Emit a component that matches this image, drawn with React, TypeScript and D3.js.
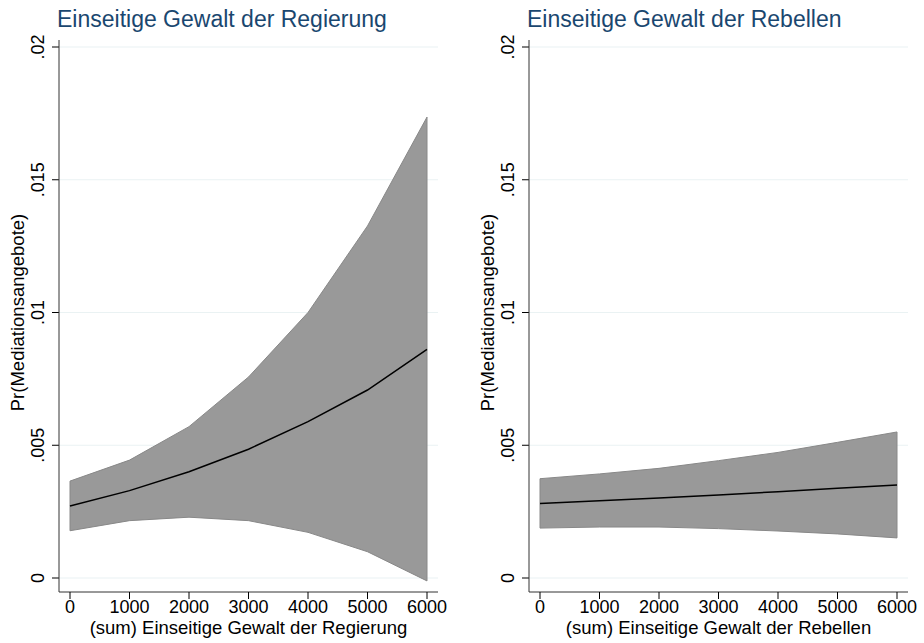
import React from 'react';
import * as d3 from 'd3';

// predicted probabilities with 95% CI
const xs = [0, 1000, 2000, 3000, 4000, 5000, 6000];

const govMean = [0.00271, 0.00329, 0.00400, 0.00485, 0.00589, 0.00708, 0.00861];
const govLow = [0.00178, 0.00216, 0.00229, 0.00216, 0.00172, 0.00099, -0.00011];
const govHigh = [0.00365, 0.00444, 0.00570, 0.00757, 0.01000, 0.01326, 0.01736];

const rebMean = [0.00281, 0.00291, 0.00301, 0.00313, 0.00325, 0.00338, 0.00350];
const rebLow = [0.00188, 0.00192, 0.00192, 0.00186, 0.00177, 0.00166, 0.00151];
const rebHigh = [0.00374, 0.00392, 0.00413, 0.00442, 0.00473, 0.00511, 0.00550];

const yTicks = [0, 0.005, 0.01, 0.015, 0.02];
const yTickLabels = ['0', '.005', '.01', '.015', '.02'];
const xTicks = [0, 1000, 2000, 3000, 4000, 5000, 6000];

const FONT = '"Liberation Sans", Arial, sans-serif';
const TITLE_COLOR = '#1a476f';

type PanelProps = {
  left: number;
  title: string;
  xTitle: string;
  mean: number[];
  low: number[];
  high: number[];
};

const Panel = ({ left, title, xTitle, mean, low, high }: PanelProps) => {
  const axisX = 59;
  const plotRight = 438;
  const axisY = 592;
  const x = d3.scaleLinear().domain([0, 6000]).range([70, 427]);
  const y = d3.scaleLinear().domain([0, 0.02]).range([578, 47]);

  const pts = xs.map((v, i) => ({ x: v, m: mean[i], lo: low[i], hi: high[i] }));
  const area = d3.area<any>().x(d => x(d.x)).y0(d => y(d.lo)).y1(d => y(d.hi));
  const line = d3.line<any>().x(d => x(d.x)).y(d => y(d.m));

  return (
    <g transform={`translate(${left},0)`}>
      <text x={57} y={27} fontSize={23} fill={TITLE_COLOR} fontFamily={FONT}>{title}</text>
      {yTicks.map((t, i) => (
        <g key={i}>
          <line x1={axisX} x2={plotRight} y1={y(t)} y2={y(t)} stroke="#eaf2f3" strokeWidth={1.2} />
          <line x1={axisX - 7} x2={axisX} y1={y(t)} y2={y(t)} stroke="#000" strokeWidth={1} />
          <text
            transform={`translate(38,${y(t)}) rotate(-90)`}
            textAnchor="middle"
            dy="0.35em"
            fontSize={18}
            fontFamily={FONT}
            fill="#000"
          >{yTickLabels[i]}</text>
        </g>
      ))}
      <path d={area(pts) || ''} fill="#999999" stroke="#888888" strokeWidth={1} />
      <path d={line(pts) || ''} fill="none" stroke="#000" strokeWidth={1.5} />
      <line x1={axisX} x2={axisX} y1={40} y2={axisY} stroke="#333" strokeWidth={1} />
      <line x1={axisX} x2={plotRight} y1={axisY} y2={axisY} stroke="#333" strokeWidth={1} />
      {xTicks.map(t => (
        <g key={t}>
          <line x1={x(t)} x2={x(t)} y1={axisY} y2={axisY + 7} stroke="#000" strokeWidth={1} />
          <text x={x(t)} y={613} textAnchor="middle" fontSize={18} fontFamily={FONT} fill="#000">{t}</text>
        </g>
      ))}
      <text x={(axisX + plotRight) / 2} y={634} textAnchor="middle" fontSize={18.5} fontFamily={FONT} fill="#000">{xTitle}</text>
      <text
        transform={`translate(18,${(47 + 578) / 2}) rotate(-90)`}
        textAnchor="middle"
        dy="0.35em"
        fontSize={18.5}
        fontFamily={FONT}
        fill="#000"
      >Pr(Mediationsangebote)</text>
    </g>
  );
};

const App = () => {
  return (
    <svg width={924} height={643} style={{ position: 'absolute', left: 0, top: 0, background: '#fff' }}>
      <rect width={924} height={643} fill="#fff" />
      <Panel left={0} title="Einseitige Gewalt der Regierung" xTitle="(sum) Einseitige Gewalt der Regierung"
        mean={govMean} low={govLow} high={govHigh} />
      <Panel left={470} title="Einseitige Gewalt der Rebellen" xTitle="(sum) Einseitige Gewalt der Rebellen"
        mean={rebMean} low={rebLow} high={rebHigh} />
    </svg>
  );
};

export default App;
